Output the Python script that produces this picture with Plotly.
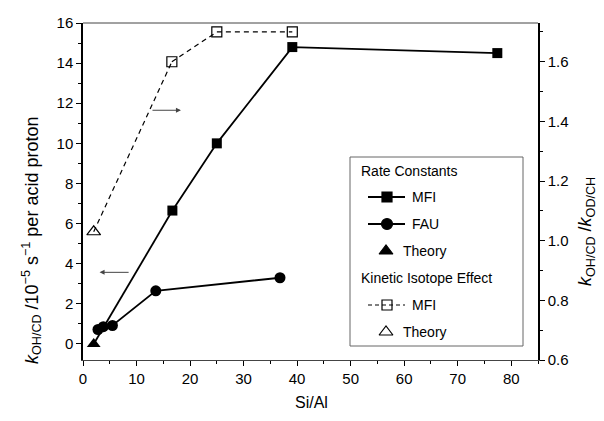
import plotly.graph_objects as go

# Rate constants (left axis, 10^-5 s^-1 per acid proton)
mfi_rate_x = [16.7, 25.0, 39.1, 77.4]
mfi_rate_y = [6.65, 10.0, 14.8, 14.5]
fau_rate_x = [2.8, 3.8, 5.5, 13.6, 36.8]
fau_rate_y = [0.72, 0.86, 0.92, 2.65, 3.30]
theory_rate_x = [2.0]
theory_rate_y = [0.0]

# Kinetic isotope effect (right axis)
mfi_kie_x = [16.6, 25.0, 39.1]
mfi_kie_y = [1.60, 1.70, 1.70]
theory_kie_x = [2.0]
theory_kie_y = [1.03]

# arrows (data coords, left axis)
arrow_right = dict(x0=12.7, x1=18.3, y=11.65)
arrow_left = dict(x0=8.8, x1=3.1, y=3.57)

FONT = "Liberation Sans, Arial, sans-serif"
# page has an 8px body margin: work in page pixels, convert to figure pixels
OFF = 8
W, H = 604 - OFF, 421 - OFF
PL, PR, PT, PB = 83 - OFF, 538 - OFF, 23 - OFF, 360 - OFF

def fx(px):
    return (px - OFF - PL) / (PR - PL)

def fy(py):
    return (PB - (py - OFF)) / (PB - PT)

fig = go.Figure()

# connectors from theory points to the first MFI points
fig.add_trace(go.Scatter(
    x=[theory_kie_x[0], mfi_kie_x[0]], y=[theory_kie_y[0], mfi_kie_y[0]],
    yaxis="y2", mode="lines", showlegend=False,
    line=dict(color="black", width=1.2, dash="5px,4px"), hoverinfo="skip"))
fig.add_trace(go.Scatter(
    x=[theory_rate_x[0], mfi_rate_x[0]], y=[theory_rate_y[0], mfi_rate_y[0]],
    mode="lines", showlegend=False,
    line=dict(color="black", width=1.8), hoverinfo="skip"))

fig.add_trace(go.Scatter(
    x=mfi_rate_x, y=mfi_rate_y, name="MFI", mode="lines+markers",
    line=dict(color="black", width=1.8),
    marker=dict(symbol="square", size=10, color="black")))
fig.add_trace(go.Scatter(
    x=fau_rate_x, y=fau_rate_y, name="FAU", mode="lines+markers",
    line=dict(color="black", width=1.8),
    marker=dict(symbol="circle", size=11, color="black")))
fig.add_trace(go.Scatter(
    x=theory_rate_x, y=theory_rate_y, name="Theory", mode="markers",
    marker=dict(symbol="triangle-up", size=12, color="black")))
fig.add_trace(go.Scatter(
    x=mfi_kie_x, y=mfi_kie_y, name="MFI", mode="lines+markers", yaxis="y2",
    line=dict(color="black", width=1.2, dash="5px,4px"),
    marker=dict(symbol="square-open", size=10, color="black", line=dict(width=1.2))))
fig.add_trace(go.Scatter(
    x=theory_kie_x, y=theory_kie_y, name="Theory", mode="markers", yaxis="y2",
    marker=dict(symbol="triangle-up-open", size=12, color="black", line=dict(width=1.2))))

for a in (arrow_right, arrow_left):
    fig.add_annotation(x=a["x1"], y=a["y"], ax=a["x0"], ay=a["y"],
                       xref="x", yref="y", axref="x", ayref="y",
                       showarrow=True, arrowhead=2, arrowsize=1, arrowwidth=1,
                       arrowcolor="#444", text="")

# ---- manual legend box
fig.add_shape(type="rect", xref="paper", yref="paper",
              x0=fx(350), x1=fx(523), y0=fy(346), y1=fy(157),
              line=dict(color="#666", width=1), fillcolor="white", layer="below")

legend_entries = [
    ("Rate Constants", "header", 171),
    ("MFI", "solid-square", 197),
    ("FAU", "solid-circle", 224),
    ("Theory", "tri", 251),
    ("Kinetic Isotope Effect", "header", 278),
    ("MFI", "dash-square", 305),
    ("Theory", "tri-open", 332),
]
LX0, LX1, LXM = 368, 405, 387
for label, kind, ypx in legend_entries:
    if kind == "header":
        fig.add_annotation(x=fx(359), y=fy(ypx), xref="paper", yref="paper",
                           text=label, showarrow=False, xanchor="left", yanchor="middle",
                           font=dict(family=FONT, size=14, color="black"))
        continue
    tx = 410 if kind in ("solid-square", "solid-circle", "dash-square") else 401
    fig.add_annotation(x=fx(tx), y=fy(ypx), xref="paper", yref="paper",
                       text=label, showarrow=False, xanchor="left", yanchor="middle",
                       font=dict(family=FONT, size=14, color="black"))
    if kind in ("solid-square", "solid-circle", "dash-square"):
        dash = "solid" if kind != "dash-square" else "4px,3px"
        fig.add_trace(go.Scatter(x=[fx(LX0), fx(LX1)], y=[fy(ypx), fy(ypx)],
                                 xaxis="x3", yaxis="y3", mode="lines", showlegend=False,
                                 hoverinfo="skip",
                                 line=dict(color="black", width=1.8 if dash == "solid" else 1.2,
                                           dash=dash)))
    sym, size = {"solid-square": ("square", 10), "solid-circle": ("circle", 11),
                 "tri": ("triangle-up", 12), "dash-square": ("square-open", 10),
                 "tri-open": ("triangle-up-open", 12)}[kind]
    mx = 386 if kind in ("tri", "tri-open") else LXM
    fig.add_trace(go.Scatter(x=[fx(mx)], y=[fy(ypx)], xaxis="x3", yaxis="y3",
                             mode="markers", showlegend=False, hoverinfo="skip",
                             marker=dict(symbol=sym, size=size, color="black",
                                         line=dict(width=1.2, color="black"))))

# axis titles as annotations (placed like the reference)
fig.add_annotation(x=fx(31), y=fy(241), xref="paper", yref="paper",
                   text="<i>k</i><sub>OH/CD</sub> /10<sup>−5</sup> s<sup>−1</sup> per acid proton",
                   textangle=-90, showarrow=False, xanchor="center", yanchor="middle",
                   font=dict(family=FONT, size=18, color="black"))
fig.add_annotation(x=fx(586), y=fy(232), xref="paper", yref="paper",
                   text="<i>k</i><sub>OH/CD</sub> /<i>k</i><sub>OD/CH</sub>",
                   textangle=-90, showarrow=False, xanchor="center", yanchor="middle",
                   font=dict(family=FONT, size=18, color="black"))
fig.add_annotation(x=fx(311), y=fy(402), xref="paper", yref="paper",
                   text="Si/Al", showarrow=False, xanchor="center", yanchor="middle",
                   font=dict(family=FONT, size=16, color="black"))

tickfont = dict(family=FONT, size=15, color="black")
fig.update_layout(
    width=W, height=H,
    margin=dict(l=PL, r=W - PR, t=PT, b=H - PB, autoexpand=False),
    paper_bgcolor="white", plot_bgcolor="white",
    font=dict(family=FONT, size=15, color="black"),
    showlegend=False,
    xaxis=dict(range=[0, 85], dtick=10, tick0=0, ticks="outside", ticklen=5,
               tickwidth=1, tickcolor="black", showline=True, linecolor="#444",
               linewidth=1, showgrid=False, zeroline=False,
               minor=dict(dtick=5, ticks="outside", ticklen=3, tickcolor="black"),
               tickfont=tickfont),
    yaxis=dict(range=[-0.8, 16], dtick=2, tick0=0, ticks="outside", ticklen=5,
               tickwidth=1, tickcolor="black", showline=True, linecolor="black",
               linewidth=1.5, showgrid=False, zeroline=False,
               minor=dict(dtick=1, ticks="outside", ticklen=3, tickcolor="black"),
               tickfont=tickfont),
    yaxis2=dict(range=[0.6, 1.73], overlaying="y", side="right", dtick=0.2, tick0=0.6,
                tickformat=".1f", ticks="outside", ticklen=5, tickwidth=1,
                tickcolor="black", showline=True, linecolor="black", linewidth=1.5,
                showgrid=False, zeroline=False,
                minor=dict(dtick=0.1, ticks="outside", ticklen=3, tickcolor="black"),
                tickfont=tickfont),
    xaxis3=dict(overlaying="x", range=[0, 1], visible=False, fixedrange=True),
    yaxis3=dict(overlaying="y", range=[0, 1], visible=False, fixedrange=True),
)
# top frame line
fig.add_shape(type="line", xref="paper", yref="paper", x0=0, x1=1, y0=1, y1=1,
              line=dict(color="#444", width=1))

fig.write_html("out.html")
